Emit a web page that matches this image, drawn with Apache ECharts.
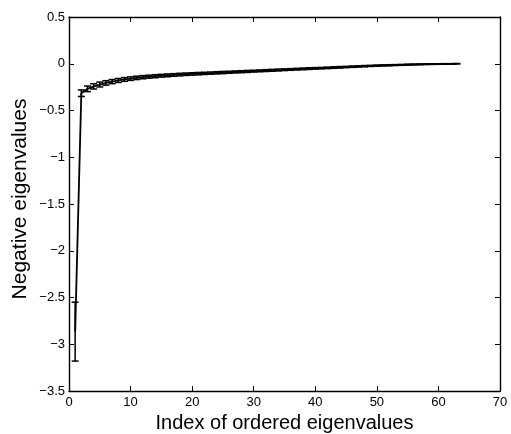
<!DOCTYPE html>
<html>
<head>
<meta charset="utf-8">
<script src="https://cdn.jsdelivr.net/npm/echarts@6/dist/echarts.min.js"></script>
<style>
  html, body { margin: 0; padding: 0; background: #fff; }
  #chart { width: 511px; height: 434px; }
</style>
</head>
<body>
<div id="chart"></div>
<script>
// Index of each ordered eigenvalue
const indices = Array.from({ length: 63 }, (_, i) => i + 1);

// Mean of the negative eigenvalues at each index
const meanValues = [
  -2.865, -0.315, -0.268, -0.242, -0.222, -0.205, -0.191, -0.179, -0.168, -0.159,
  -0.151, -0.144, -0.138, -0.133, -0.128, -0.124, -0.120, -0.116, -0.112, -0.109,
  -0.106, -0.103, -0.100, -0.097, -0.094, -0.091, -0.088, -0.085, -0.082, -0.079,
  -0.076, -0.073, -0.070, -0.067, -0.064, -0.061, -0.058, -0.055, -0.052, -0.049,
  -0.047, -0.044, -0.041, -0.038, -0.035, -0.032, -0.029, -0.026, -0.023, -0.020,
  -0.018, -0.016, -0.014, -0.012, -0.010, -0.008, -0.006, -0.005, -0.004, -0.003,
  -0.002, -0.001, 0.000
];

// Half-length of each error bar
const errorValues = [
  0.315, 0.035, 0.030, 0.028, 0.026, 0.024, 0.022, 0.021, 0.020, 0.019,
  0.018, 0.017, 0.016, 0.016, 0.015, 0.015, 0.014, 0.014, 0.013, 0.013,
  0.013, 0.012, 0.012, 0.012, 0.012, 0.011, 0.011, 0.011, 0.011, 0.010,
  0.010, 0.010, 0.010, 0.010, 0.009, 0.009, 0.009, 0.009, 0.009, 0.008,
  0.008, 0.008, 0.008, 0.008, 0.007, 0.007, 0.007, 0.007, 0.006, 0.006,
  0.006, 0.006, 0.005, 0.005, 0.005, 0.004, 0.004, 0.004, 0.003, 0.003,
  0.003, 0.002, 0.002
];

const xTicks = [0, 10, 20, 30, 40, 50, 60, 70];
const yTicks = [-3.5, -3, -2.5, -2, -1.5, -1, -0.5, 0, 0.5];

const xTitle = 'Index of ordered eigenvalues';
const yTitle = 'Negative eigenvalues';

const FONT = '"Liberation Sans", Arial, Helvetica, sans-serif';

const lineData = indices.map((x, i) => [x, meanValues[i]]);
const barData = indices.map((x, i) => [x, meanValues[i] - errorValues[i], meanValues[i] + errorValues[i]]);

const fmt = v => String(v).replace('-', '\u2212');

const tickStyle = { inside: true, length: 5, lineStyle: { color: '#000', width: 1 } };
const lineStyleAxis = { onZero: false, lineStyle: { color: '#000', width: 1.4 } };

const chart = echarts.init(document.getElementById('chart'));
chart.setOption({
  backgroundColor: '#fff',
  animation: false,
  grid: { left: 69, right: 11, top: 17, bottom: 43, containLabel: false, outerBoundsMode: 'none' },
  graphic: [
    {
      type: 'text',
      x: 20, y: 199,
      rotation: Math.PI / 2,
      style: {
        text: yTitle, fill: '#000', font: '21px ' + FONT,
        align: 'center', verticalAlign: 'middle'
      }
    }
  ],
  xAxis: [
    {
      type: 'value', min: xTicks[0], max: xTicks[xTicks.length - 1], interval: 10,
      position: 'bottom',
      axisLine: lineStyleAxis, axisTick: tickStyle, splitLine: { show: false },
      axisLabel: { color: '#000', fontFamily: FONT, fontSize: 13, margin: 5, formatter: fmt },
      name: xTitle, nameLocation: 'middle', nameGap: 21,
      nameTextStyle: { color: '#000', fontFamily: FONT, fontSize: 20, verticalAlign: 'top' }
    },
    {
      type: 'value', min: xTicks[0], max: xTicks[xTicks.length - 1], interval: 10,
      position: 'top',
      axisLine: lineStyleAxis, axisTick: tickStyle, splitLine: { show: false },
      axisLabel: { show: false }
    }
  ],
  yAxis: [
    {
      type: 'value', min: yTicks[0], max: yTicks[yTicks.length - 1], interval: 0.5,
      position: 'left',
      axisLine: lineStyleAxis, axisTick: tickStyle, splitLine: { show: false },
      axisLabel: { color: '#000', fontFamily: FONT, fontSize: 13, margin: 4, formatter: fmt }
    },
    {
      type: 'value', min: yTicks[0], max: yTicks[yTicks.length - 1], interval: 0.5,
      position: 'right',
      axisLine: lineStyleAxis, axisTick: tickStyle, splitLine: { show: false },
      axisLabel: { show: false }
    }
  ],
  series: [
    {
      type: 'line',
      data: lineData,
      xAxisIndex: 0, yAxisIndex: 0,
      showSymbol: false,
      lineStyle: { color: '#000', width: 1.8 },
      z: 3
    },
    {
      type: 'custom',
      data: barData,
      xAxisIndex: 0, yAxisIndex: 0,
      encode: { x: 0, y: [1, 2] },
      renderItem: (params, api) => {
        const x = api.value(0);
        const lo = api.coord([x, api.value(1)]);
        const hi = api.coord([x, api.value(2)]);
        const hw = 3.5;
        const style = { stroke: '#000', lineWidth: 1.5 };
        return {
          type: 'group',
          children: [
            { type: 'line', shape: { x1: lo[0], y1: lo[1], x2: hi[0], y2: hi[1] }, style },
            { type: 'line', shape: { x1: lo[0] - hw, y1: lo[1], x2: lo[0] + hw, y2: lo[1] }, style },
            { type: 'line', shape: { x1: hi[0] - hw, y1: hi[1], x2: hi[0] + hw, y2: hi[1] }, style }
          ]
        };
      },
      z: 4
    }
  ]
});
</script>
</body>
</html>
